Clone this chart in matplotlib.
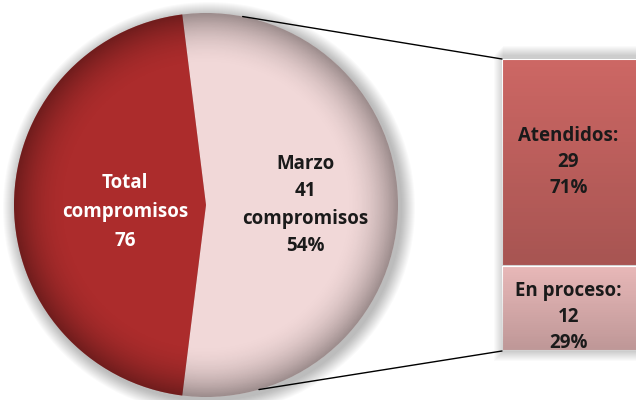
import numpy as np
import matplotlib.pyplot as plt
from matplotlib.patches import Circle, ConnectionPatch, Rectangle

# datos del grafico
total = 76
pie_labels = ["Marzo", "Total compromisos"]
pie_values = [41, 35]
bar_labels = ["En proceso:", "Atendidos:"]
bar_values = [12, 29]

pie_colors = ["#f1d8d8", "#ac2c2c"]
bar_colors = ["#e8b8b8", "#cc6764"]

plt.rcParams['font.family'] = ['Open Sans', 'DejaVu Sans']

fig = plt.figure(figsize=(6.36, 4.0), dpi=100)
fig.patch.set_facecolor("white")

# eje en pixeles (y hacia arriba)
ax = fig.add_axes([0, 0, 1, 1])

cx, cy, r = 206, 195, 192

# sombra suave
for k in range(14):
    ax.add_patch(Circle((cx + 3, cy - 3), r + 14 - k, color="black",
                        alpha=0.018, lw=0, zorder=1))

frac = pie_values[0] / sum(pie_values)
wedges, _ = ax.pie(pie_values, colors=pie_colors, center=(cx, cy), radius=r,
                   startangle=-frac * 180, counterclock=True,
                   wedgeprops=dict(linewidth=0), frame=True)
for w in wedges:
    w.set_zorder(2)
ax.set_xlim(0, 636)
ax.set_ylim(0, 400)
ax.axis("off")

# sombreado radial
yy, xx = np.mgrid[-1:1:300j, -1:1:300j]
rr = np.sqrt(xx ** 2 + yy ** 2)
shade = np.zeros((300, 300, 4))
shade[..., 3] = np.clip((rr - 0.72) / 0.28, 0, 1) ** 2 * 0.35
img = ax.imshow(shade, extent=(cx - r, cx + r, cy - r, cy + r), zorder=3,
                origin="lower")
img.set_clip_path(Circle((cx, cy), r, transform=ax.transData))

# textos del pastel
ax.text(125, 400 - 212, "Total\ncompromisos\n%d" % total, color="white",
        fontsize=13.5, fontweight="bold", ha="center", va="center",
        linespacing=1.6, zorder=5)
ax.text(305, 400 - 205, "%s\n%d\ncompromisos\n%d%%" % (pie_labels[0], pie_values[0],
        round(100 * frac)), color="#1a1a1a", fontsize=13.5, fontweight="bold",
        ha="center", va="center", linespacing=1.5, zorder=5)

# barra apilada
bx0, bx1, by0, by1 = 502, 660, 400 - 351, 400 - 59
for k in range(10):
    ax.add_patch(Rectangle((bx0 - 8 + k, by0 - 10 + k), bx1 - bx0 + 16, by1 - by0 + 14,
                           color="black", alpha=0.02, lw=0, zorder=1))

bax = fig.add_axes([bx0 / 636, by0 / 400, (bx1 - bx0) / 636, (by1 - by0) / 400])
bax.set_xlim(-0.5, 0.5)
bax.set_ylim(0, sum(bar_values))
bax.axis("off")
bottom = 0
offs = [1.2, 0.0]
for lab, val, col, off in zip(bar_labels, bar_values, bar_colors, offs):
    bars = bax.bar(0, val, width=1.0, bottom=bottom, color=col, edgecolor="white",
                   linewidth=1.5)
    # degradado vertical leve
    g = np.zeros((50, 2, 4))
    g[..., 3] = np.linspace(0.18, 0.0, 50)[:, None]
    gi = bax.imshow(g, extent=(-0.5, 0.5, bottom, bottom + val), aspect="auto",
                    origin="lower", zorder=3)
    gi.set_clip_path(bars[0])
    pct = round(100 * val / sum(bar_values))
    bax.text(-0.08, bottom + val / 2 - off, "%s\n%d\n%d%%" % (lab, val, pct),
             color="#1a1a1a", fontsize=13.5, fontweight="bold", ha="center",
             va="center", linespacing=1.4, zorder=5)
    bottom += val
bax.set_xlim(-0.5, 0.5)
bax.set_ylim(0, sum(bar_values))

# lineas de conexion
for ang, yb in [(79, sum(bar_values)), (-74, 0)]:
    t = np.deg2rad(ang)
    p = (cx + r * np.cos(t), cy + r * np.sin(t))
    con = ConnectionPatch(xyA=(-0.5, yb), coordsA=bax.transData,
                          xyB=p, coordsB=ax.transData, color="black", lw=1.0)
    fig.add_artist(con)

plt.savefig("out.png", dpi=100)
